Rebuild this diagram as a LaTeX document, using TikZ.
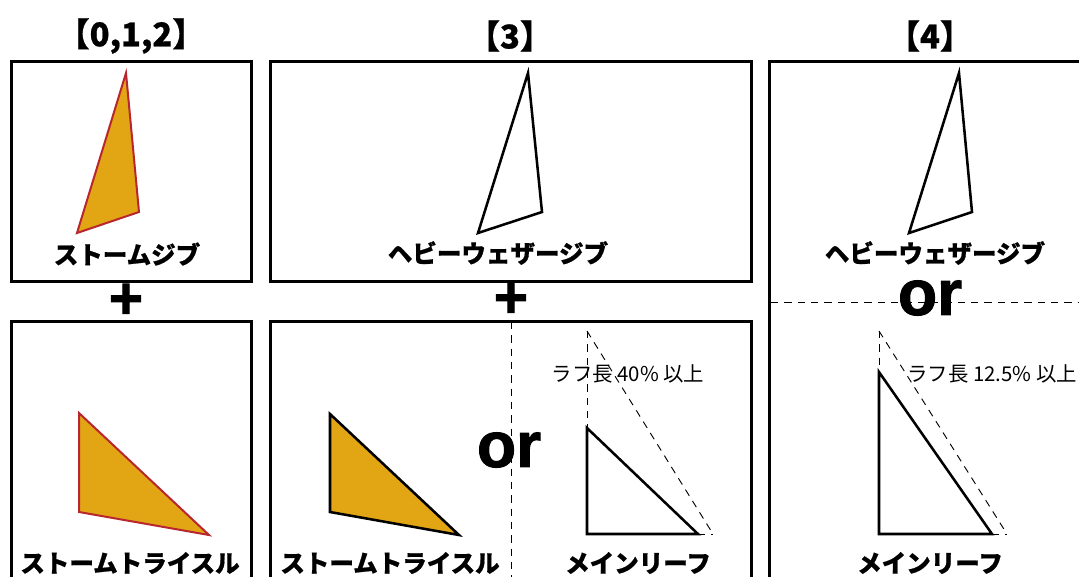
\documentclass[tikz,border=0pt]{standalone}
\usepackage{fontspec}
\setmainfont{Noto Sans CJK JP}[BoldFeatures={FakeBold=0.7}]
\newfontfamily\latinb{Liberation Sans}[BoldFeatures={FakeBold=1.6}]
\definecolor{sailfill}{HTML}{E2A614}
\definecolor{sailred}{HTML}{B8262E}
\begin{document}
\begin{tikzpicture}[x=0.75pt,y=-0.75pt,
  frame/.style={draw=black, line width=2.25pt},
  sailA/.style={fill=sailfill, draw=sailred, line width=1.5pt},
  sailB/.style={fill=sailfill, draw=black, line width=1.9pt},
  sailW/.style={fill=white, draw=black, line width=1.9pt},
  guide/.style={draw=black, line width=0.7pt, dash pattern=on 5.5pt off 4.5pt},
  title/.style={font=\bfseries\fontsize{24.5}{24.5}\selectfont, inner sep=0pt},
  label/.style={font=\bfseries\fontsize{18.4}{18.4}\selectfont, inner sep=0pt},
  note/.style={font=\fontsize{15.3}{15.3}\selectfont, inner sep=0pt},
  orword/.style={font=\latinb\bfseries\fontsize{48}{48}\selectfont, inner sep=0pt},
  plussign/.style={font=\latinb\bfseries\fontsize{44}{44}\selectfont, inner sep=0pt}]
\useasboundingbox (0,0) rectangle (1079,576);
\clip (0,0) rectangle (1079,576);
\fill[white] (0,0) rectangle (1079,576);

% titles
\node[title] (t0) at (131,36) {【0,1,2】};
\node[title] (t3) at (510,36) {【3】};
\node[title] (t4) at (930,36) {【4】};

% frames
\draw[frame] (11,61) rectangle (251,281);
\draw[frame] (11,321) rectangle (251,600);
\draw[frame] (270,61) rectangle (751,281);
\draw[frame] (270,321) rectangle (751,600);
\draw[frame] (769,61) rectangle (1100,600);

% column 1
\draw[sailA] (126,73) -- (77,233) -- (139,212) -- cycle;
\node[label] (l1) at (127,254) {ストームジブ};
\node[plussign] (p1) at (126,301) {+};
\draw[sailA] (79,413) -- (79,512) -- (209,535) -- cycle;
\node[label] (l2) at (130,563) {ストームトライスル};

% column 2
\draw[sailW] (528,73) -- (478,233) -- (542,212) -- cycle;
\node[label] (l3) at (498,253) {ヘビーウェザージブ};
\node[plussign] (p2) at (511,300) {+};
\coordinate (dvTop) at (511,322);
\coordinate (dvBot) at (511,590);
\draw[guide] (dvTop) -- (dvBot);
\draw[sailB] (330,414) -- (330,512) -- (459,535) -- cycle;
\node[label] (l4) at (390,563) {ストームトライスル};
\node[orword] (or1) at (509,450) {or};
\coordinate (m1top) at (587,331);
\coordinate (m1a) at (587,428);
\coordinate (m1b) at (587,534);
\coordinate (m1c) at (698,534);
\coordinate (m1d) at (713,534);
\draw[guide] (m1top) -- (m1a);
\draw[guide] (m1top) -- (m1d);
\draw[guide] (m1c) -- (m1d);
\draw[sailW] (m1a) -- (m1b) -- (m1c) -- cycle;
\node[note] (n1) at (628,374) {ラフ長 40\% 以上};
\node[label] (l5) at (638,563) {メインリーフ};

% column 3
\draw[sailW] (959,73) -- (909,233) -- (972,212) -- cycle;
\node[label] (l6) at (935,253) {ヘビーウェザージブ};
\coordinate (dhL) at (771,302);
\coordinate (dhR) at (1079,302);
\draw[guide] (dhL) -- (dhR);
\node[orword] (or2) at (930,298) {or};
\coordinate (m2top) at (879,331);
\coordinate (m2a) at (879,372);
\coordinate (m2b) at (879,534);
\coordinate (m2c) at (992,534);
\coordinate (m2d) at (1007,534);
\draw[guide] (m2top) -- (m2a);
\draw[guide] (m2top) -- (m2d);
\draw[guide] (m2c) -- (m2d);
\draw[sailW] (m2a) -- (m2b) -- (m2c) -- cycle;
\node[note, anchor=west] (n2) at (907,374) {ラフ長 12.5\% 以上};
\node[label] (l7) at (930,563) {メインリーフ};
\end{tikzpicture}
\end{document}
